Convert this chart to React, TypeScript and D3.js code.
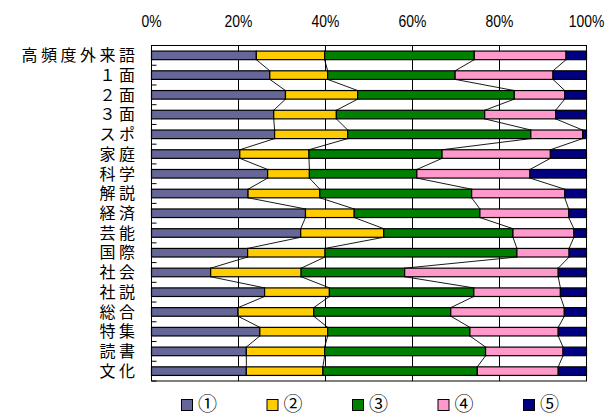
import React from "react";
import * as d3 from "d3";

const categories = [
  "高頻度外来語", "１面", "２面", "３面", "スポ", "家庭", "科学", "解説", "経済",
  "芸能", "国際", "社会", "社説", "総合", "特集", "読書", "文化",
];

const seriesNames = ["①", "②", "③", "④", "⑤"];
const seriesColors = ["#666699", "#FFCC00", "#008000", "#FF99CC", "#000080"];

// Percentage share of each category, one array per series
const s1 = [24.1, 27.2, 30.8, 28.1, 28.3, 20.3, 26.7, 22.2, 35.4, 34.3, 22.1, 13.6, 26.0, 19.9, 24.9, 21.8, 21.8];
const s2 = [15.7, 13.3, 16.6, 14.4, 16.8, 15.9, 9.6, 16.5, 11.2, 19.1, 17.8, 20.8, 14.9, 17.4, 15.6, 18.0, 17.6];
const s3 = [34.4, 29.3, 36.0, 34.1, 42.1, 30.6, 24.7, 34.9, 28.9, 29.7, 44.1, 23.8, 33.2, 31.5, 32.7, 37.0, 35.5];
const s4 = [21.1, 22.5, 11.6, 16.3, 11.9, 24.9, 26.0, 21.4, 20.4, 14.0, 12.0, 35.3, 19.9, 26.1, 20.3, 17.8, 18.6];
const s5 = [4.7, 7.7, 5.0, 7.1, 0.9, 8.3, 13.0, 5.0, 4.1, 2.9, 4.0, 6.5, 6.0, 5.1, 6.5, 5.4, 6.5];

const tickValues = [0, 20, 40, 60, 80, 100];

const W = 613;
const H = 416;
const left = 151.5;
const right = 586.5;
const top = 45.5;
const bottom = 381;

export default function App() {
  const series = [s1, s2, s3, s4, s5];
  const rows = categories.map((c, i) => {
    const r: any = { cat: c };
    series.forEach((s, k) => (r["k" + k] = s[i]));
    return r;
  });
  const keys = series.map((_, k) => "k" + k);
  const stacked = d3.stack().keys(keys)(rows);

  const x = d3.scaleLinear().domain([0, 100]).range([left, right]);
  const y = d3.scaleBand().domain(categories).range([top, bottom]).paddingInner(0.565).paddingOuter(0.2825);
  const band = y.step();
  const bh = y.bandwidth();

  // Series lines connect each segment boundary between neighbouring bars
  const seriesLines: { x1: number; y1: number; x2: number; y2: number }[] = [];
  for (let k = 0; k < 4; k++) {
    for (let i = 0; i < categories.length - 1; i++) {
      const a = stacked[k][i][1];
      const b = stacked[k][i + 1][1];
      seriesLines.push({
        x1: x(a),
        y1: (y(categories[i]) as number) + bh,
        x2: x(b),
        y2: y(categories[i + 1]) as number,
      });
    }
  }

  const legendX = d3.scaleLinear().domain([0, 4]).range([181, 523]);

  return (
    <svg width={W} height={H} style={{ position: "absolute", left: 0, top: 0 }}>
      <rect x={0} y={0} width={W} height={H} fill="#fff" />
      {/* plot area */}
      <rect x={left} y={top} width={right - left} height={bottom - top} fill="#fff" stroke="#000" strokeWidth={1} />
      {tickValues.slice(1, -1).map((t) => (
        <line key={t} x1={x(t)} x2={x(t)} y1={top} y2={bottom} stroke="#000" strokeWidth={1} />
      ))}
      {/* category ticks */}
      {d3.range(categories.length + 1).map((i) => (
        <line key={i} x1={left} x2={left + 5} y1={top + i * band} y2={top + i * band} stroke="#000" strokeWidth={1} />
      ))}
      {/* top axis labels */}
      {tickValues.map((t) => (
        <text
          key={t}
          transform={`translate(${x(t)},26.5) scale(0.82,1)`}
          textAnchor="middle"
          fontFamily="'Liberation Sans', Arial, sans-serif"
          fontSize={17}
          fill="#000"
        >
          {t}%
        </text>
      ))}
      {/* bars */}
      {stacked.map((layer, k) => (
        <g key={k}>
          {layer.map((d, i) => (
            <rect
              key={i}
              x={x(d[0])}
              y={y(categories[i]) as number}
              width={x(d[1]) - x(d[0])}
              height={bh}
              fill={seriesColors[k]}
              stroke="#000"
              strokeWidth={1.2}
            />
          ))}
        </g>
      ))}
      {seriesLines.map((l, i) => (
        <line key={i} x1={l.x1} y1={l.y1} x2={l.x2} y2={l.y2} stroke="#000" strokeWidth={0.9} />
      ))}
      {/* category labels */}
      {categories.map((c) => (
        <text
          key={c}
          x={138.5}
          y={(y(c) as number) + bh / 2}
          dy="0.36em"
          textAnchor="end"
          fontFamily="'Noto Sans CJK JP', sans-serif"
          fontSize={16}
          letterSpacing={3.5}
          fill="#000"
        >
          {c}
        </text>
      ))}
      {/* legend */}
      {seriesNames.map((n, k) => (
        <g key={n} transform={`translate(${legendX(k)},399)`}>
          <rect x={0.5} y={0.5} width={11} height={11} fill={seriesColors[k]} stroke="#000" strokeWidth={1} />
          <text x={17} y={5.5} dy="0.36em" fontFamily="'Noto Sans CJK JP', sans-serif" fontSize={19} fill="#000">
            {n}
          </text>
        </g>
      ))}
    </svg>
  );
}
